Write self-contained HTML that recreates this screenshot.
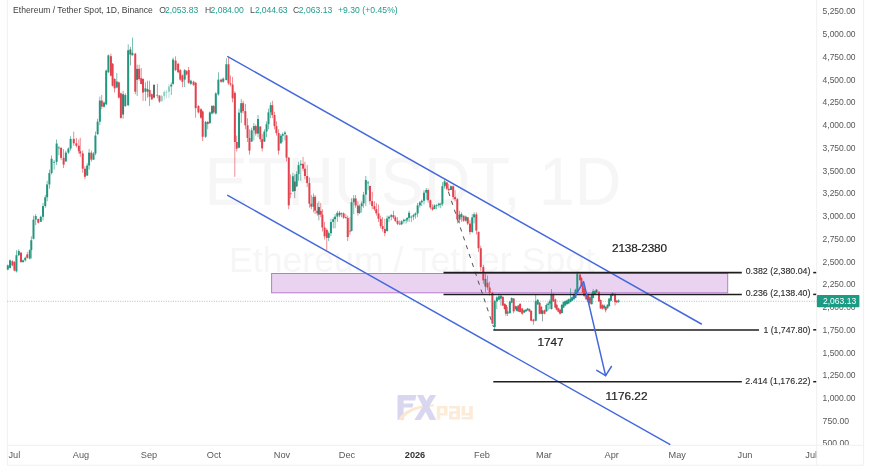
<!DOCTYPE html>
<html><head><meta charset="utf-8"><title>ETHUSDT</title>
<style>
html,body{margin:0;padding:0;background:#fff;}
body{width:870px;height:473px;overflow:hidden;position:relative;font-family:"Liberation Sans",sans-serif;}
svg{position:absolute;left:0;top:0;display:block;}
text{font-family:"Liberation Sans",sans-serif;}
</style></head><body>
<svg width="870" height="473" viewBox="0 0 870 473" style="will-change:transform">
<defs><filter id="cb" x="0" y="0" width="870" height="473" filterUnits="userSpaceOnUse"><feGaussianBlur stdDeviation="0.3"/></filter></defs>
<rect x="0" y="0" width="870" height="473" fill="#ffffff"/>

<g id="frame" stroke="#f0f0f0" stroke-width="1" fill="none">
<rect x="0" y="0" width="7.4" height="473" fill="#fefefe" stroke="none"/>
<line x1="7.4" y1="0" x2="7.4" y2="465.2"/>
<line x1="863.6" y1="0" x2="863.6" y2="465.2"/>
<line x1="7.4" y1="465.2" x2="863.6" y2="465.2"/>
<line x1="7.4" y1="445.3" x2="863.6" y2="445.3"/>
<line x1="816.7" y1="0" x2="816.7" y2="465.2"/>
</g>
<g id="wm" fill="#f6f6f6">
<text x="204.5" y="205.4" font-size="68" textLength="417" lengthAdjust="spacingAndGlyphs">ETHUSDT, 1D</text>
<text x="229" y="271.6" font-size="34.5" textLength="366" lengthAdjust="spacingAndGlyphs">Ethereum / Tether Spot</text>
</g>
<g id="logo">
<path d="M398.6 395 L416.4 395 L415.2 400.6 L403.6 400.6 L403.6 403.6 L413.5 403.6 L412.5 407.6 L403.6 407.6 L403.6 420 L397.5 420 L397.5 396.1 Q397.5 395 398.6 395 Z" fill="#d8d7ef"/>
<path d="M398.3 420 C403 410.5 414 405.3 434 404.3 L433.5 406.4 C418 407.6 408 411.6 401.6 420 Z" fill="#fbe8cf"/>
<g fill="#d8d7ef">
<path d="M417 395 L423.3 395 L436.3 420 L429.8 420 Z"/>
<path d="M430 395 L436.3 395 L420.5 420 L414.3 420 Z"/>
</g>
<g fill="#fcebd6">
<path d="M436.8 406 L447.5 406 L447.5 415.5 L440.3 415.5 L440.3 419.6 L436.8 419.6 Z M440.3 408.6 L440.3 413 L444 413 L444 408.6 Z" fill-rule="evenodd"/>
<path d="M449 406 L460 406 L460 419.6 L449 419.6 L449 411.3 L456.4 411.3 L456.4 408.6 L449 408.6 Z M452.5 413.8 L452.5 417 L456.4 417 L456.4 413.8 Z" fill-rule="evenodd"/>
<path d="M461.6 406 L465.2 406 L465.2 413 L469.2 413 L469.2 406 L472.8 406 L472.8 419.6 L461.6 419.6 L461.6 417 L469.2 417 L469.2 415.6 L461.6 415.6 Z"/>
</g>
</g>
<rect x="271.6" y="273.5" width="456.1" height="19.3" fill="#e9d3f1" stroke="#b57ccb" stroke-width="1"/>
<g stroke="#4468dc" stroke-width="1.45" fill="none" stroke-linecap="round">
<line x1="227.8" y1="56.6" x2="701.4" y2="324.0"/>
<line x1="227.7" y1="195.3" x2="669.8" y2="444.4"/>
</g>
<line x1="444.4" y1="179.7" x2="493.5" y2="327" stroke="#484848" stroke-width="0.95" stroke-dasharray="4.2 5.15" stroke-dashoffset="5.75"/>
<g id="candles" filter="url(#cb)">
<rect x="7.46" y="264.53" width="0.7" height="5.59" fill="#22967f" opacity="0.85"/>
<rect x="6.81" y="265.38" width="2.0" height="4.23" fill="#22967f"/>
<rect x="9.66" y="259.46" width="0.7" height="8.97" fill="#22967f" opacity="0.85"/>
<rect x="9.01" y="260.30" width="2.0" height="7.62" fill="#22967f"/>
<rect x="12.03" y="260.30" width="0.7" height="5.93" fill="#e2424e" opacity="0.85"/>
<rect x="11.38" y="261.15" width="2.0" height="4.23" fill="#e2424e"/>
<rect x="14.06" y="261.15" width="0.7" height="10.15" fill="#e2424e" opacity="0.85"/>
<rect x="13.41" y="262.00" width="2.0" height="8.46" fill="#e2424e"/>
<rect x="16.09" y="250.15" width="0.7" height="22.34" fill="#22967f" opacity="0.85"/>
<rect x="15.44" y="255.23" width="2.0" height="16.07" fill="#22967f"/>
<rect x="18.46" y="249.31" width="0.7" height="6.76" fill="#22967f" opacity="0.85"/>
<rect x="17.81" y="251.00" width="2.0" height="4.23" fill="#22967f"/>
<rect x="20.66" y="251.84" width="0.7" height="11.00" fill="#e2424e" opacity="0.85"/>
<rect x="20.01" y="252.69" width="2.0" height="9.31" fill="#e2424e"/>
<rect x="22.69" y="259.46" width="0.7" height="3.38" fill="#22967f" opacity="0.85"/>
<rect x="22.04" y="260.30" width="2.0" height="1.70" fill="#22967f"/>
<rect x="24.89" y="256.58" width="0.7" height="5.08" fill="#22967f" opacity="0.85"/>
<rect x="24.24" y="257.77" width="2.0" height="2.53" fill="#22967f"/>
<rect x="26.92" y="251.84" width="0.7" height="6.77" fill="#e2424e" opacity="0.85"/>
<rect x="26.27" y="254.38" width="2.0" height="3.39" fill="#e2424e"/>
<rect x="29.46" y="249.31" width="0.7" height="10.15" fill="#22967f" opacity="0.85"/>
<rect x="28.81" y="250.15" width="2.0" height="8.46" fill="#22967f"/>
<rect x="30.93" y="236.25" width="0.7" height="22.20" fill="#22967f" opacity="0.85"/>
<rect x="30.28" y="240.25" width="2.0" height="9.90" fill="#22967f"/>
<rect x="33.15" y="215.63" width="0.7" height="23.79" fill="#22967f" opacity="0.85"/>
<rect x="32.50" y="219.63" width="2.0" height="19.19" fill="#22967f"/>
<rect x="35.37" y="214.05" width="0.7" height="11.10" fill="#22967f" opacity="0.85"/>
<rect x="34.72" y="216.05" width="2.0" height="3.58" fill="#22967f"/>
<rect x="37.91" y="218.80" width="0.7" height="4.76" fill="#e2424e" opacity="0.85"/>
<rect x="37.26" y="218.93" width="2.0" height="3.77" fill="#e2424e"/>
<rect x="40.45" y="215.63" width="0.7" height="6.35" fill="#22967f" opacity="0.85"/>
<rect x="39.80" y="216.77" width="2.0" height="5.04" fill="#22967f"/>
<rect x="42.67" y="202.95" width="0.7" height="17.44" fill="#22967f" opacity="0.85"/>
<rect x="42.02" y="206.09" width="2.0" height="10.68" fill="#22967f"/>
<rect x="44.89" y="195.02" width="0.7" height="12.68" fill="#22967f" opacity="0.85"/>
<rect x="44.24" y="197.30" width="2.0" height="8.79" fill="#22967f"/>
<rect x="46.79" y="180.75" width="0.7" height="20.61" fill="#22967f" opacity="0.85"/>
<rect x="46.14" y="184.46" width="2.0" height="12.84" fill="#22967f"/>
<rect x="49.01" y="169.64" width="0.7" height="19.03" fill="#22967f" opacity="0.85"/>
<rect x="48.36" y="173.07" width="2.0" height="11.39" fill="#22967f"/>
<rect x="51.23" y="155.37" width="0.7" height="19.03" fill="#22967f" opacity="0.85"/>
<rect x="50.58" y="158.80" width="2.0" height="14.27" fill="#22967f"/>
<rect x="53.77" y="160.13" width="0.7" height="9.51" fill="#22967f" opacity="0.85"/>
<rect x="53.12" y="161.84" width="2.0" height="0.80" fill="#22967f"/>
<rect x="56.30" y="139.51" width="0.7" height="25.38" fill="#22967f" opacity="0.85"/>
<rect x="55.65" y="143.51" width="2.0" height="18.33" fill="#22967f"/>
<rect x="58.52" y="145.86" width="0.7" height="9.51" fill="#22967f" opacity="0.85"/>
<rect x="57.87" y="147.57" width="2.0" height="0.80" fill="#22967f"/>
<rect x="60.74" y="147.44" width="0.7" height="12.69" fill="#e2424e" opacity="0.85"/>
<rect x="60.09" y="147.78" width="2.0" height="10.06" fill="#e2424e"/>
<rect x="63.28" y="149.03" width="0.7" height="19.03" fill="#e2424e" opacity="0.85"/>
<rect x="62.63" y="157.85" width="2.0" height="6.79" fill="#e2424e"/>
<rect x="65.50" y="150.62" width="0.7" height="11.10" fill="#22967f" opacity="0.85"/>
<rect x="64.85" y="152.62" width="2.0" height="8.80" fill="#22967f"/>
<rect x="68.04" y="147.44" width="0.7" height="6.35" fill="#22967f" opacity="0.85"/>
<rect x="67.39" y="148.58" width="2.0" height="4.03" fill="#22967f"/>
<rect x="70.26" y="136.34" width="0.7" height="14.28" fill="#22967f" opacity="0.85"/>
<rect x="69.61" y="138.91" width="2.0" height="9.67" fill="#22967f"/>
<rect x="73.43" y="131.59" width="0.7" height="14.27" fill="#e2424e" opacity="0.85"/>
<rect x="72.78" y="138.91" width="2.0" height="4.38" fill="#e2424e"/>
<rect x="75.97" y="137.93" width="0.7" height="9.51" fill="#e2424e" opacity="0.85"/>
<rect x="75.32" y="143.29" width="2.0" height="2.44" fill="#e2424e"/>
<rect x="78.51" y="139.51" width="0.7" height="14.28" fill="#e2424e" opacity="0.85"/>
<rect x="77.86" y="145.73" width="2.0" height="5.49" fill="#e2424e"/>
<rect x="79.85" y="137.83" width="0.7" height="19.03" fill="#e2424e" opacity="0.85"/>
<rect x="79.20" y="151.22" width="2.0" height="2.22" fill="#e2424e"/>
<rect x="82.39" y="150.52" width="0.7" height="22.20" fill="#e2424e" opacity="0.85"/>
<rect x="81.74" y="153.43" width="2.0" height="15.29" fill="#e2424e"/>
<rect x="84.61" y="166.38" width="0.7" height="12.68" fill="#e2424e" opacity="0.85"/>
<rect x="83.96" y="168.72" width="2.0" height="8.05" fill="#e2424e"/>
<rect x="86.83" y="163.21" width="0.7" height="12.68" fill="#22967f" opacity="0.85"/>
<rect x="86.18" y="165.49" width="2.0" height="10.06" fill="#22967f"/>
<rect x="88.73" y="148.93" width="0.7" height="20.62" fill="#22967f" opacity="0.85"/>
<rect x="88.08" y="152.64" width="2.0" height="12.85" fill="#22967f"/>
<rect x="90.95" y="150.52" width="0.7" height="11.10" fill="#e2424e" opacity="0.85"/>
<rect x="90.30" y="152.64" width="2.0" height="6.98" fill="#e2424e"/>
<rect x="93.17" y="152.11" width="0.7" height="7.92" fill="#22967f" opacity="0.85"/>
<rect x="92.52" y="153.54" width="2.0" height="6.09" fill="#22967f"/>
<rect x="95.07" y="131.49" width="0.7" height="23.79" fill="#22967f" opacity="0.85"/>
<rect x="94.42" y="135.49" width="2.0" height="18.05" fill="#22967f"/>
<rect x="97.29" y="118.80" width="0.7" height="15.86" fill="#22967f" opacity="0.85"/>
<rect x="96.64" y="121.65" width="2.0" height="12.58" fill="#22967f"/>
<rect x="99.51" y="96.60" width="0.7" height="28.55" fill="#22967f" opacity="0.85"/>
<rect x="98.86" y="100.60" width="2.0" height="21.05" fill="#22967f"/>
<rect x="101.42" y="95.02" width="0.7" height="14.27" fill="#e2424e" opacity="0.85"/>
<rect x="100.77" y="100.60" width="2.0" height="6.12" fill="#e2424e"/>
<rect x="103.64" y="101.36" width="0.7" height="6.34" fill="#22967f" opacity="0.85"/>
<rect x="102.99" y="102.50" width="2.0" height="4.22" fill="#22967f"/>
<rect x="105.84" y="69.72" width="0.7" height="35.49" fill="#22967f" opacity="0.85"/>
<rect x="105.19" y="70.56" width="2.0" height="33.80" fill="#22967f"/>
<rect x="108.03" y="54.51" width="0.7" height="18.59" fill="#22967f" opacity="0.85"/>
<rect x="107.38" y="55.35" width="2.0" height="16.90" fill="#22967f"/>
<rect x="110.57" y="53.66" width="0.7" height="22.82" fill="#e2424e" opacity="0.85"/>
<rect x="109.92" y="56.20" width="2.0" height="19.43" fill="#e2424e"/>
<rect x="112.26" y="62.96" width="0.7" height="23.66" fill="#e2424e" opacity="0.85"/>
<rect x="111.61" y="63.80" width="2.0" height="21.97" fill="#e2424e"/>
<rect x="114.29" y="78.17" width="0.7" height="14.36" fill="#e2424e" opacity="0.85"/>
<rect x="113.64" y="79.01" width="2.0" height="9.30" fill="#e2424e"/>
<rect x="116.48" y="73.10" width="0.7" height="15.21" fill="#22967f" opacity="0.85"/>
<rect x="115.83" y="81.55" width="2.0" height="5.91" fill="#22967f"/>
<rect x="118.51" y="81.55" width="0.7" height="16.90" fill="#e2424e" opacity="0.85"/>
<rect x="117.86" y="82.39" width="2.0" height="15.21" fill="#e2424e"/>
<rect x="120.54" y="92.53" width="0.7" height="26.20" fill="#e2424e" opacity="0.85"/>
<rect x="119.89" y="93.38" width="2.0" height="24.50" fill="#e2424e"/>
<rect x="122.74" y="90.84" width="0.7" height="27.89" fill="#55706a" opacity="0.85"/>
<rect x="122.09" y="94.22" width="2.0" height="20.28" fill="#55706a"/>
<rect x="124.93" y="93.38" width="0.7" height="13.52" fill="#22967f" opacity="0.85"/>
<rect x="124.28" y="95.07" width="2.0" height="10.98" fill="#22967f"/>
<rect x="127.81" y="44.37" width="0.7" height="61.68" fill="#22967f" opacity="0.85"/>
<rect x="127.16" y="50.28" width="2.0" height="54.93" fill="#22967f"/>
<rect x="130.00" y="46.90" width="0.7" height="18.59" fill="#55706a" opacity="0.85"/>
<rect x="129.35" y="49.44" width="2.0" height="5.07" fill="#55706a"/>
<rect x="132.03" y="37.61" width="0.7" height="17.74" fill="#22967f" opacity="0.85"/>
<rect x="131.38" y="52.82" width="2.0" height="2.53" fill="#22967f"/>
<rect x="134.90" y="52.82" width="0.7" height="41.40" fill="#e2424e" opacity="0.85"/>
<rect x="134.25" y="53.66" width="2.0" height="38.03" fill="#e2424e"/>
<rect x="136.76" y="64.65" width="0.7" height="31.26" fill="#55706a" opacity="0.85"/>
<rect x="136.11" y="68.87" width="2.0" height="10.99" fill="#55706a"/>
<rect x="138.79" y="64.65" width="0.7" height="16.05" fill="#e2424e" opacity="0.85"/>
<rect x="138.14" y="68.87" width="2.0" height="10.14" fill="#e2424e"/>
<rect x="140.82" y="68.03" width="0.7" height="16.05" fill="#e2424e" opacity="0.85"/>
<rect x="140.17" y="78.17" width="2.0" height="5.91" fill="#e2424e"/>
<rect x="142.68" y="78.17" width="0.7" height="22.81" fill="#e2424e" opacity="0.85"/>
<rect x="142.03" y="79.01" width="2.0" height="13.52" fill="#e2424e"/>
<rect x="145.04" y="82.39" width="0.7" height="18.59" fill="#22967f" opacity="0.85"/>
<rect x="144.39" y="88.31" width="2.0" height="3.38" fill="#22967f"/>
<rect x="147.24" y="80.70" width="0.7" height="16.90" fill="#55706a" opacity="0.85"/>
<rect x="146.59" y="89.15" width="2.0" height="2.54" fill="#55706a"/>
<rect x="149.27" y="80.70" width="0.7" height="25.35" fill="#e2424e" opacity="0.85"/>
<rect x="148.62" y="90.00" width="2.0" height="6.76" fill="#e2424e"/>
<rect x="151.47" y="93.38" width="0.7" height="6.76" fill="#e2424e" opacity="0.85"/>
<rect x="150.82" y="94.22" width="2.0" height="5.07" fill="#e2424e"/>
<rect x="153.66" y="84.08" width="0.7" height="14.37" fill="#55706a" opacity="0.85"/>
<rect x="153.01" y="84.93" width="2.0" height="12.67" fill="#55706a"/>
<rect x="156.92" y="83.92" width="0.7" height="14.27" fill="#e2424e" opacity="0.85"/>
<rect x="156.27" y="94.82" width="2.0" height="0.80" fill="#e2424e"/>
<rect x="159.14" y="95.02" width="0.7" height="7.93" fill="#e2424e" opacity="0.85"/>
<rect x="158.49" y="95.62" width="2.0" height="5.90" fill="#e2424e"/>
<rect x="161.36" y="95.02" width="0.7" height="6.34" fill="#8fcfc2" opacity="0.85"/>
<rect x="160.71" y="96.16" width="2.0" height="5.03" fill="#8fcfc2"/>
<rect x="163.90" y="90.26" width="0.7" height="9.51" fill="#8fcfc2" opacity="0.85"/>
<rect x="163.25" y="91.97" width="2.0" height="4.19" fill="#8fcfc2"/>
<rect x="166.12" y="90.26" width="0.7" height="7.93" fill="#8fcfc2" opacity="0.85"/>
<rect x="165.47" y="91.69" width="2.0" height="0.80" fill="#8fcfc2"/>
<rect x="168.65" y="83.92" width="0.7" height="14.27" fill="#8fcfc2" opacity="0.85"/>
<rect x="168.00" y="86.49" width="2.0" height="5.20" fill="#8fcfc2"/>
<rect x="170.87" y="82.33" width="0.7" height="12.69" fill="#22967f" opacity="0.85"/>
<rect x="170.22" y="84.61" width="2.0" height="1.87" fill="#22967f"/>
<rect x="172.71" y="57.41" width="0.7" height="27.51" fill="#22967f" opacity="0.85"/>
<rect x="172.06" y="59.52" width="2.0" height="24.34" fill="#22967f"/>
<rect x="175.25" y="56.35" width="0.7" height="14.81" fill="#e2424e" opacity="0.85"/>
<rect x="174.60" y="60.58" width="2.0" height="9.53" fill="#e2424e"/>
<rect x="177.79" y="62.70" width="0.7" height="10.58" fill="#e2424e" opacity="0.85"/>
<rect x="177.14" y="63.76" width="2.0" height="8.46" fill="#e2424e"/>
<rect x="179.90" y="69.05" width="0.7" height="11.64" fill="#e2424e" opacity="0.85"/>
<rect x="179.25" y="70.11" width="2.0" height="9.52" fill="#e2424e"/>
<rect x="182.02" y="74.34" width="0.7" height="12.70" fill="#e2424e" opacity="0.85"/>
<rect x="181.37" y="75.40" width="2.0" height="6.35" fill="#e2424e"/>
<rect x="184.35" y="69.05" width="0.7" height="17.99" fill="#22967f" opacity="0.85"/>
<rect x="183.70" y="70.11" width="2.0" height="9.52" fill="#22967f"/>
<rect x="186.25" y="70.11" width="0.7" height="5.29" fill="#e2424e" opacity="0.85"/>
<rect x="185.60" y="71.16" width="2.0" height="3.18" fill="#e2424e"/>
<rect x="188.37" y="66.93" width="0.7" height="16.93" fill="#e2424e" opacity="0.85"/>
<rect x="187.72" y="70.11" width="2.0" height="12.69" fill="#e2424e"/>
<rect x="190.48" y="79.63" width="0.7" height="5.29" fill="#22967f" opacity="0.85"/>
<rect x="189.83" y="80.69" width="2.0" height="3.17" fill="#22967f"/>
<rect x="193.24" y="80.69" width="0.7" height="5.29" fill="#e2424e" opacity="0.85"/>
<rect x="192.59" y="81.75" width="2.0" height="3.17" fill="#e2424e"/>
<rect x="195.35" y="81.75" width="0.7" height="35.97" fill="#e2424e" opacity="0.85"/>
<rect x="194.70" y="82.80" width="2.0" height="25.40" fill="#e2424e"/>
<rect x="198.10" y="105.03" width="0.7" height="8.46" fill="#e2424e" opacity="0.85"/>
<rect x="197.45" y="106.08" width="2.0" height="6.35" fill="#e2424e"/>
<rect x="200.64" y="108.20" width="0.7" height="10.58" fill="#e2424e" opacity="0.85"/>
<rect x="199.99" y="109.26" width="2.0" height="8.46" fill="#e2424e"/>
<rect x="202.34" y="110.32" width="0.7" height="30.69" fill="#e2424e" opacity="0.85"/>
<rect x="201.69" y="111.38" width="2.0" height="25.39" fill="#e2424e"/>
<rect x="205.30" y="120.90" width="0.7" height="16.93" fill="#22967f" opacity="0.85"/>
<rect x="204.65" y="121.96" width="2.0" height="14.81" fill="#22967f"/>
<rect x="207.42" y="120.90" width="0.7" height="8.47" fill="#e2424e" opacity="0.85"/>
<rect x="206.77" y="121.96" width="2.0" height="2.11" fill="#e2424e"/>
<rect x="209.53" y="111.38" width="0.7" height="12.69" fill="#22967f" opacity="0.85"/>
<rect x="208.88" y="112.43" width="2.0" height="10.59" fill="#22967f"/>
<rect x="211.65" y="105.03" width="0.7" height="9.52" fill="#22967f" opacity="0.85"/>
<rect x="211.00" y="106.08" width="2.0" height="7.41" fill="#22967f"/>
<rect x="213.34" y="105.03" width="0.7" height="8.46" fill="#e2424e" opacity="0.85"/>
<rect x="212.69" y="106.08" width="2.0" height="6.35" fill="#e2424e"/>
<rect x="215.46" y="92.33" width="0.7" height="22.22" fill="#22967f" opacity="0.85"/>
<rect x="214.81" y="93.39" width="2.0" height="20.10" fill="#22967f"/>
<rect x="218.00" y="72.22" width="0.7" height="23.28" fill="#22967f" opacity="0.85"/>
<rect x="217.35" y="79.63" width="2.0" height="14.81" fill="#22967f"/>
<rect x="220.75" y="78.57" width="0.7" height="4.23" fill="#e2424e" opacity="0.85"/>
<rect x="220.10" y="79.63" width="2.0" height="2.12" fill="#e2424e"/>
<rect x="222.87" y="77.51" width="0.7" height="5.29" fill="#22967f" opacity="0.85"/>
<rect x="222.22" y="78.57" width="2.0" height="3.18" fill="#22967f"/>
<rect x="225.95" y="58.25" width="0.7" height="21.88" fill="#22967f" opacity="0.85"/>
<rect x="225.30" y="64.27" width="2.0" height="15.86" fill="#22967f"/>
<rect x="228.17" y="57.61" width="0.7" height="27.28" fill="#e2424e" opacity="0.85"/>
<rect x="227.52" y="64.27" width="2.0" height="19.03" fill="#e2424e"/>
<rect x="230.07" y="75.37" width="0.7" height="11.10" fill="#e2424e" opacity="0.85"/>
<rect x="229.42" y="83.30" width="2.0" height="1.17" fill="#e2424e"/>
<rect x="232.29" y="76.96" width="0.7" height="25.37" fill="#e2424e" opacity="0.85"/>
<rect x="231.64" y="84.47" width="2.0" height="13.86" fill="#e2424e"/>
<rect x="234.51" y="91.23" width="0.7" height="85.63" fill="#e2424e" opacity="0.85"/>
<rect x="233.86" y="92.82" width="2.0" height="49.16" fill="#e2424e"/>
<rect x="236.42" y="135.63" width="0.7" height="15.86" fill="#e2424e" opacity="0.85"/>
<rect x="235.77" y="141.98" width="2.0" height="6.66" fill="#e2424e"/>
<rect x="238.64" y="108.67" width="0.7" height="39.65" fill="#22967f" opacity="0.85"/>
<rect x="237.99" y="112.67" width="2.0" height="35.05" fill="#22967f"/>
<rect x="240.86" y="99.16" width="0.7" height="23.79" fill="#22967f" opacity="0.85"/>
<rect x="240.21" y="103.16" width="2.0" height="9.51" fill="#22967f"/>
<rect x="242.76" y="100.75" width="0.7" height="12.68" fill="#e2424e" opacity="0.85"/>
<rect x="242.11" y="103.16" width="2.0" height="7.99" fill="#e2424e"/>
<rect x="244.98" y="103.92" width="0.7" height="25.37" fill="#e2424e" opacity="0.85"/>
<rect x="244.33" y="111.15" width="2.0" height="14.14" fill="#e2424e"/>
<rect x="247.20" y="118.19" width="0.7" height="23.79" fill="#e2424e" opacity="0.85"/>
<rect x="246.55" y="125.29" width="2.0" height="12.69" fill="#e2424e"/>
<rect x="249.10" y="129.29" width="0.7" height="25.37" fill="#e2424e" opacity="0.85"/>
<rect x="248.45" y="137.98" width="2.0" height="12.68" fill="#e2424e"/>
<rect x="251.32" y="127.70" width="0.7" height="14.28" fill="#22967f" opacity="0.85"/>
<rect x="250.67" y="130.27" width="2.0" height="11.32" fill="#22967f"/>
<rect x="253.54" y="122.95" width="0.7" height="17.44" fill="#22967f" opacity="0.85"/>
<rect x="252.89" y="126.09" width="2.0" height="4.18" fill="#22967f"/>
<rect x="255.45" y="124.53" width="0.7" height="11.10" fill="#e2424e" opacity="0.85"/>
<rect x="254.80" y="126.09" width="2.0" height="7.54" fill="#e2424e"/>
<rect x="257.67" y="115.02" width="0.7" height="22.20" fill="#22967f" opacity="0.85"/>
<rect x="257.02" y="119.02" width="2.0" height="14.62" fill="#22967f"/>
<rect x="259.89" y="126.12" width="0.7" height="15.86" fill="#e2424e" opacity="0.85"/>
<rect x="259.24" y="126.55" width="2.0" height="12.58" fill="#e2424e"/>
<rect x="261.79" y="134.05" width="0.7" height="17.44" fill="#e2424e" opacity="0.85"/>
<rect x="261.14" y="139.13" width="2.0" height="9.23" fill="#e2424e"/>
<rect x="264.01" y="129.29" width="0.7" height="12.69" fill="#22967f" opacity="0.85"/>
<rect x="263.36" y="131.57" width="2.0" height="10.06" fill="#22967f"/>
<rect x="266.23" y="121.36" width="0.7" height="15.86" fill="#22967f" opacity="0.85"/>
<rect x="265.58" y="124.21" width="2.0" height="7.36" fill="#22967f"/>
<rect x="268.13" y="108.67" width="0.7" height="20.62" fill="#22967f" opacity="0.85"/>
<rect x="267.48" y="112.38" width="2.0" height="11.83" fill="#22967f"/>
<rect x="270.35" y="102.33" width="0.7" height="15.86" fill="#22967f" opacity="0.85"/>
<rect x="269.70" y="105.18" width="2.0" height="7.20" fill="#22967f"/>
<rect x="271.94" y="100.75" width="0.7" height="17.44" fill="#e2424e" opacity="0.85"/>
<rect x="271.29" y="105.18" width="2.0" height="9.87" fill="#e2424e"/>
<rect x="274.16" y="111.85" width="0.7" height="17.44" fill="#e2424e" opacity="0.85"/>
<rect x="273.51" y="115.05" width="2.0" height="11.10" fill="#e2424e"/>
<rect x="276.06" y="121.36" width="0.7" height="14.27" fill="#e2424e" opacity="0.85"/>
<rect x="275.41" y="126.15" width="2.0" height="6.91" fill="#e2424e"/>
<rect x="278.28" y="129.29" width="0.7" height="25.37" fill="#e2424e" opacity="0.85"/>
<rect x="277.63" y="133.06" width="2.0" height="17.60" fill="#e2424e"/>
<rect x="280.50" y="134.05" width="0.7" height="9.51" fill="#22967f" opacity="0.85"/>
<rect x="279.85" y="135.76" width="2.0" height="7.54" fill="#22967f"/>
<rect x="282.40" y="132.46" width="0.7" height="9.52" fill="#22967f" opacity="0.85"/>
<rect x="281.75" y="134.17" width="2.0" height="1.59" fill="#22967f"/>
<rect x="284.62" y="130.88" width="0.7" height="9.51" fill="#22967f" opacity="0.85"/>
<rect x="283.97" y="132.59" width="2.0" height="1.58" fill="#22967f"/>
<rect x="286.19" y="134.76" width="0.7" height="26.96" fill="#e2424e" opacity="0.85"/>
<rect x="285.54" y="135.36" width="2.0" height="22.36" fill="#e2424e"/>
<rect x="288.41" y="156.96" width="0.7" height="52.33" fill="#e2424e" opacity="0.85"/>
<rect x="287.76" y="157.72" width="2.0" height="47.57" fill="#e2424e"/>
<rect x="290.32" y="174.40" width="0.7" height="23.79" fill="#e2424e" opacity="0.85"/>
<rect x="289.67" y="193.39" width="2.0" height="0.80" fill="#e2424e"/>
<rect x="292.54" y="172.82" width="0.7" height="19.03" fill="#22967f" opacity="0.85"/>
<rect x="291.89" y="176.25" width="2.0" height="15.09" fill="#22967f"/>
<rect x="294.44" y="174.40" width="0.7" height="23.79" fill="#55706a" opacity="0.85"/>
<rect x="293.79" y="181.54" width="2.0" height="9.52" fill="#55706a"/>
<rect x="296.34" y="171.23" width="0.7" height="15.86" fill="#22967f" opacity="0.85"/>
<rect x="295.69" y="174.08" width="2.0" height="12.21" fill="#22967f"/>
<rect x="298.25" y="161.72" width="0.7" height="19.03" fill="#22967f" opacity="0.85"/>
<rect x="297.60" y="165.15" width="2.0" height="8.94" fill="#22967f"/>
<rect x="300.47" y="160.13" width="0.7" height="20.62" fill="#22967f" opacity="0.85"/>
<rect x="299.82" y="163.84" width="2.0" height="1.30" fill="#22967f"/>
<rect x="302.69" y="156.96" width="0.7" height="14.27" fill="#e2424e" opacity="0.85"/>
<rect x="302.04" y="163.84" width="2.0" height="4.82" fill="#e2424e"/>
<rect x="304.59" y="161.72" width="0.7" height="17.44" fill="#e2424e" opacity="0.85"/>
<rect x="303.94" y="168.66" width="2.0" height="7.36" fill="#e2424e"/>
<rect x="306.81" y="164.89" width="0.7" height="22.20" fill="#e2424e" opacity="0.85"/>
<rect x="306.16" y="176.02" width="2.0" height="7.07" fill="#e2424e"/>
<rect x="309.03" y="177.57" width="0.7" height="30.13" fill="#e2424e" opacity="0.85"/>
<rect x="308.38" y="183.09" width="2.0" height="20.61" fill="#e2424e"/>
<rect x="310.93" y="195.02" width="0.7" height="14.27" fill="#e2424e" opacity="0.85"/>
<rect x="310.28" y="203.70" width="2.0" height="3.02" fill="#e2424e"/>
<rect x="313.15" y="193.43" width="0.7" height="19.03" fill="#22967f" opacity="0.85"/>
<rect x="312.50" y="196.86" width="2.0" height="9.87" fill="#22967f"/>
<rect x="314.74" y="195.02" width="0.7" height="19.03" fill="#e2424e" opacity="0.85"/>
<rect x="314.09" y="196.86" width="2.0" height="13.77" fill="#e2424e"/>
<rect x="316.96" y="202.95" width="0.7" height="12.68" fill="#e2424e" opacity="0.85"/>
<rect x="316.31" y="210.62" width="2.0" height="2.72" fill="#e2424e"/>
<rect x="318.54" y="201.36" width="0.7" height="19.03" fill="#55706a" opacity="0.85"/>
<rect x="317.89" y="207.07" width="2.0" height="7.61" fill="#55706a"/>
<rect x="320.45" y="202.95" width="0.7" height="14.27" fill="#e2424e" opacity="0.85"/>
<rect x="319.80" y="210.88" width="2.0" height="3.78" fill="#e2424e"/>
<rect x="322.03" y="209.29" width="0.7" height="22.20" fill="#e2424e" opacity="0.85"/>
<rect x="321.38" y="214.65" width="2.0" height="12.84" fill="#e2424e"/>
<rect x="324.25" y="221.98" width="0.7" height="17.44" fill="#e2424e" opacity="0.85"/>
<rect x="323.60" y="227.49" width="2.0" height="8.79" fill="#e2424e"/>
<rect x="326.47" y="228.32" width="0.7" height="22.20" fill="#e2424e" opacity="0.85"/>
<rect x="325.82" y="229.90" width="2.0" height="7.93" fill="#e2424e"/>
<rect x="328.38" y="231.49" width="0.7" height="9.52" fill="#22967f" opacity="0.85"/>
<rect x="327.73" y="233.20" width="2.0" height="4.63" fill="#22967f"/>
<rect x="330.60" y="218.80" width="0.7" height="17.45" fill="#22967f" opacity="0.85"/>
<rect x="329.95" y="221.94" width="2.0" height="11.26" fill="#22967f"/>
<rect x="332.82" y="217.22" width="0.7" height="11.10" fill="#22967f" opacity="0.85"/>
<rect x="332.17" y="219.22" width="2.0" height="2.72" fill="#22967f"/>
<rect x="334.72" y="214.05" width="0.7" height="14.27" fill="#22967f" opacity="0.85"/>
<rect x="334.07" y="216.62" width="2.0" height="2.60" fill="#22967f"/>
<rect x="336.94" y="210.88" width="0.7" height="11.10" fill="#22967f" opacity="0.85"/>
<rect x="336.29" y="212.88" width="2.0" height="3.74" fill="#22967f"/>
<rect x="339.16" y="210.88" width="0.7" height="6.34" fill="#55706a" opacity="0.85"/>
<rect x="338.51" y="212.78" width="2.0" height="2.54" fill="#55706a"/>
<rect x="341.06" y="212.46" width="0.7" height="4.76" fill="#22967f" opacity="0.85"/>
<rect x="340.41" y="213.32" width="2.0" height="0.80" fill="#22967f"/>
<rect x="343.28" y="212.46" width="0.7" height="6.34" fill="#e2424e" opacity="0.85"/>
<rect x="342.63" y="213.32" width="2.0" height="4.34" fill="#e2424e"/>
<rect x="345.50" y="214.05" width="0.7" height="4.75" fill="#e2424e" opacity="0.85"/>
<rect x="344.85" y="217.15" width="2.0" height="0.80" fill="#e2424e"/>
<rect x="347.40" y="215.63" width="0.7" height="25.38" fill="#e2424e" opacity="0.85"/>
<rect x="346.75" y="217.95" width="2.0" height="19.06" fill="#e2424e"/>
<rect x="349.62" y="217.22" width="0.7" height="17.44" fill="#e2424e" opacity="0.85"/>
<rect x="348.97" y="230.72" width="2.0" height="0.80" fill="#e2424e"/>
<rect x="351.21" y="198.19" width="0.7" height="33.30" fill="#22967f" opacity="0.85"/>
<rect x="350.56" y="202.19" width="2.0" height="28.70" fill="#22967f"/>
<rect x="353.43" y="195.02" width="0.7" height="19.03" fill="#22967f" opacity="0.85"/>
<rect x="352.78" y="198.45" width="2.0" height="3.74" fill="#22967f"/>
<rect x="355.33" y="195.02" width="0.7" height="12.68" fill="#e2424e" opacity="0.85"/>
<rect x="354.68" y="198.45" width="2.0" height="6.97" fill="#e2424e"/>
<rect x="357.55" y="201.36" width="0.7" height="14.27" fill="#e2424e" opacity="0.85"/>
<rect x="356.90" y="205.42" width="2.0" height="7.64" fill="#e2424e"/>
<rect x="359.14" y="204.53" width="0.7" height="9.52" fill="#22967f" opacity="0.85"/>
<rect x="358.49" y="206.24" width="2.0" height="6.82" fill="#22967f"/>
<rect x="361.36" y="201.36" width="0.7" height="11.10" fill="#22967f" opacity="0.85"/>
<rect x="360.71" y="203.36" width="2.0" height="2.89" fill="#22967f"/>
<rect x="363.26" y="191.85" width="0.7" height="15.85" fill="#22967f" opacity="0.85"/>
<rect x="362.61" y="194.70" width="2.0" height="8.66" fill="#22967f"/>
<rect x="365.48" y="175.99" width="0.7" height="30.13" fill="#22967f" opacity="0.85"/>
<rect x="364.83" y="179.99" width="2.0" height="14.71" fill="#22967f"/>
<rect x="367.70" y="180.75" width="0.7" height="9.51" fill="#22967f" opacity="0.85"/>
<rect x="367.05" y="182.46" width="2.0" height="0.80" fill="#22967f"/>
<rect x="369.61" y="185.50" width="0.7" height="19.03" fill="#e2424e" opacity="0.85"/>
<rect x="368.96" y="186.01" width="2.0" height="15.09" fill="#e2424e"/>
<rect x="371.83" y="191.85" width="0.7" height="17.44" fill="#e2424e" opacity="0.85"/>
<rect x="371.18" y="201.10" width="2.0" height="5.05" fill="#e2424e"/>
<rect x="374.05" y="201.36" width="0.7" height="9.52" fill="#e2424e" opacity="0.85"/>
<rect x="373.40" y="206.15" width="2.0" height="3.02" fill="#e2424e"/>
<rect x="375.95" y="202.95" width="0.7" height="12.68" fill="#e2424e" opacity="0.85"/>
<rect x="375.30" y="209.17" width="2.0" height="4.18" fill="#e2424e"/>
<rect x="378.17" y="204.53" width="0.7" height="17.45" fill="#e2424e" opacity="0.85"/>
<rect x="377.52" y="213.35" width="2.0" height="5.49" fill="#e2424e"/>
<rect x="380.39" y="215.63" width="0.7" height="12.69" fill="#e2424e" opacity="0.85"/>
<rect x="379.74" y="218.84" width="2.0" height="7.20" fill="#e2424e"/>
<rect x="382.29" y="217.22" width="0.7" height="14.27" fill="#e2424e" opacity="0.85"/>
<rect x="381.64" y="226.04" width="2.0" height="2.89" fill="#e2424e"/>
<rect x="384.51" y="218.80" width="0.7" height="17.45" fill="#e2424e" opacity="0.85"/>
<rect x="383.86" y="228.92" width="2.0" height="4.19" fill="#e2424e"/>
<rect x="386.73" y="215.63" width="0.7" height="15.86" fill="#22967f" opacity="0.85"/>
<rect x="386.08" y="218.48" width="2.0" height="12.58" fill="#22967f"/>
<rect x="388.64" y="215.63" width="0.7" height="6.35" fill="#22967f" opacity="0.85"/>
<rect x="387.99" y="216.77" width="2.0" height="1.71" fill="#22967f"/>
<rect x="390.86" y="214.05" width="0.7" height="6.34" fill="#22967f" opacity="0.85"/>
<rect x="390.21" y="215.19" width="2.0" height="1.58" fill="#22967f"/>
<rect x="393.08" y="210.88" width="0.7" height="7.92" fill="#e2424e" opacity="0.85"/>
<rect x="392.43" y="215.19" width="2.0" height="2.18" fill="#e2424e"/>
<rect x="394.98" y="215.63" width="0.7" height="6.35" fill="#e2424e" opacity="0.85"/>
<rect x="394.33" y="217.37" width="2.0" height="3.46" fill="#e2424e"/>
<rect x="397.20" y="217.22" width="0.7" height="7.93" fill="#e2424e" opacity="0.85"/>
<rect x="396.55" y="220.84" width="2.0" height="2.89" fill="#e2424e"/>
<rect x="399.42" y="220.39" width="0.7" height="4.76" fill="#e2424e" opacity="0.85"/>
<rect x="398.77" y="223.49" width="2.0" height="0.80" fill="#e2424e"/>
<rect x="401.32" y="220.39" width="0.7" height="4.76" fill="#22967f" opacity="0.85"/>
<rect x="400.67" y="221.25" width="2.0" height="3.05" fill="#22967f"/>
<rect x="403.54" y="218.80" width="0.7" height="4.76" fill="#22967f" opacity="0.85"/>
<rect x="402.89" y="219.66" width="2.0" height="1.59" fill="#22967f"/>
<rect x="405.76" y="218.80" width="0.7" height="4.76" fill="#22967f" opacity="0.85"/>
<rect x="405.11" y="219.66" width="2.0" height="0.80" fill="#22967f"/>
<rect x="406.83" y="217.09" width="0.7" height="4.76" fill="#22967f" opacity="0.85"/>
<rect x="406.18" y="217.95" width="2.0" height="1.71" fill="#22967f"/>
<rect x="408.73" y="210.75" width="0.7" height="11.10" fill="#22967f" opacity="0.85"/>
<rect x="408.08" y="212.75" width="2.0" height="5.20" fill="#22967f"/>
<rect x="410.95" y="215.50" width="0.7" height="6.35" fill="#22967f" opacity="0.85"/>
<rect x="410.30" y="216.64" width="2.0" height="0.80" fill="#22967f"/>
<rect x="413.17" y="213.92" width="0.7" height="6.34" fill="#22967f" opacity="0.85"/>
<rect x="412.52" y="215.06" width="2.0" height="1.58" fill="#22967f"/>
<rect x="415.07" y="212.33" width="0.7" height="6.34" fill="#22967f" opacity="0.85"/>
<rect x="414.42" y="213.47" width="2.0" height="1.59" fill="#22967f"/>
<rect x="417.29" y="202.82" width="0.7" height="14.27" fill="#22967f" opacity="0.85"/>
<rect x="416.64" y="205.39" width="2.0" height="8.08" fill="#22967f"/>
<rect x="419.51" y="201.23" width="0.7" height="6.34" fill="#22967f" opacity="0.85"/>
<rect x="418.86" y="202.37" width="2.0" height="3.02" fill="#22967f"/>
<rect x="421.42" y="199.64" width="0.7" height="6.35" fill="#22967f" opacity="0.85"/>
<rect x="420.77" y="200.78" width="2.0" height="1.59" fill="#22967f"/>
<rect x="423.64" y="190.13" width="0.7" height="14.27" fill="#22967f" opacity="0.85"/>
<rect x="422.99" y="192.70" width="2.0" height="8.08" fill="#22967f"/>
<rect x="425.86" y="187.91" width="0.7" height="11.73" fill="#22967f" opacity="0.85"/>
<rect x="425.21" y="190.02" width="2.0" height="2.68" fill="#22967f"/>
<rect x="427.76" y="188.54" width="0.7" height="14.28" fill="#e2424e" opacity="0.85"/>
<rect x="427.11" y="190.02" width="2.0" height="10.23" fill="#e2424e"/>
<rect x="429.98" y="199.64" width="0.7" height="9.52" fill="#e2424e" opacity="0.85"/>
<rect x="429.33" y="200.25" width="2.0" height="7.20" fill="#e2424e"/>
<rect x="432.20" y="204.40" width="0.7" height="6.35" fill="#e2424e" opacity="0.85"/>
<rect x="431.55" y="207.45" width="2.0" height="2.16" fill="#e2424e"/>
<rect x="434.10" y="204.40" width="0.7" height="4.76" fill="#22967f" opacity="0.85"/>
<rect x="433.45" y="205.26" width="2.0" height="3.77" fill="#22967f"/>
<rect x="436.32" y="204.40" width="0.7" height="4.76" fill="#22967f" opacity="0.85"/>
<rect x="435.67" y="205.26" width="2.0" height="0.80" fill="#22967f"/>
<rect x="438.54" y="202.82" width="0.7" height="4.75" fill="#22967f" opacity="0.85"/>
<rect x="437.89" y="203.67" width="2.0" height="1.58" fill="#22967f"/>
<rect x="440.45" y="202.82" width="0.7" height="5.39" fill="#22967f" opacity="0.85"/>
<rect x="439.80" y="203.79" width="2.0" height="0.80" fill="#22967f"/>
<rect x="442.03" y="182.20" width="0.7" height="23.79" fill="#22967f" opacity="0.85"/>
<rect x="441.38" y="186.20" width="2.0" height="17.59" fill="#22967f"/>
<rect x="444.25" y="179.66" width="0.7" height="8.88" fill="#22967f" opacity="0.85"/>
<rect x="443.60" y="181.26" width="2.0" height="4.94" fill="#22967f"/>
<rect x="446.47" y="182.20" width="0.7" height="7.93" fill="#e2424e" opacity="0.85"/>
<rect x="445.82" y="182.41" width="2.0" height="6.29" fill="#e2424e"/>
<rect x="448.38" y="183.79" width="0.7" height="7.93" fill="#e2424e" opacity="0.85"/>
<rect x="447.73" y="188.70" width="2.0" height="1.59" fill="#e2424e"/>
<rect x="450.60" y="185.37" width="0.7" height="4.76" fill="#22967f" opacity="0.85"/>
<rect x="449.95" y="186.23" width="2.0" height="3.77" fill="#22967f"/>
<rect x="452.82" y="185.37" width="0.7" height="14.27" fill="#e2424e" opacity="0.85"/>
<rect x="452.17" y="186.23" width="2.0" height="10.84" fill="#e2424e"/>
<rect x="454.72" y="190.13" width="0.7" height="11.10" fill="#e2424e" opacity="0.85"/>
<rect x="454.07" y="197.07" width="2.0" height="2.16" fill="#e2424e"/>
<rect x="456.94" y="198.06" width="0.7" height="25.37" fill="#e2424e" opacity="0.85"/>
<rect x="456.29" y="199.23" width="2.0" height="20.20" fill="#e2424e"/>
<rect x="459.16" y="210.75" width="0.7" height="12.68" fill="#55706a" opacity="0.85"/>
<rect x="458.51" y="214.55" width="2.0" height="5.07" fill="#55706a"/>
<rect x="461.06" y="212.33" width="0.7" height="9.52" fill="#22967f" opacity="0.85"/>
<rect x="460.41" y="214.04" width="2.0" height="3.05" fill="#22967f"/>
<rect x="463.28" y="215.50" width="0.7" height="6.35" fill="#e2424e" opacity="0.85"/>
<rect x="462.63" y="215.67" width="2.0" height="5.04" fill="#e2424e"/>
<rect x="465.50" y="215.50" width="0.7" height="6.35" fill="#22967f" opacity="0.85"/>
<rect x="464.85" y="216.64" width="2.0" height="4.06" fill="#22967f"/>
<rect x="467.40" y="217.09" width="0.7" height="7.93" fill="#e2424e" opacity="0.85"/>
<rect x="466.75" y="217.30" width="2.0" height="6.29" fill="#e2424e"/>
<rect x="469.62" y="220.26" width="0.7" height="14.27" fill="#e2424e" opacity="0.85"/>
<rect x="468.97" y="223.59" width="2.0" height="8.37" fill="#e2424e"/>
<rect x="471.84" y="213.92" width="0.7" height="19.03" fill="#22967f" opacity="0.85"/>
<rect x="471.19" y="217.35" width="2.0" height="14.62" fill="#22967f"/>
<rect x="473.75" y="212.33" width="0.7" height="11.10" fill="#22967f" opacity="0.85"/>
<rect x="473.10" y="214.33" width="2.0" height="3.02" fill="#22967f"/>
<rect x="475.97" y="212.33" width="0.7" height="22.20" fill="#e2424e" opacity="0.85"/>
<rect x="475.32" y="214.33" width="2.0" height="16.21" fill="#e2424e"/>
<rect x="478.19" y="231.36" width="0.7" height="20.62" fill="#e2424e" opacity="0.85"/>
<rect x="477.54" y="231.92" width="2.0" height="16.35" fill="#e2424e"/>
<rect x="480.42" y="245.77" width="0.7" height="25.37" fill="#e2424e" opacity="0.85"/>
<rect x="479.77" y="248.27" width="2.0" height="18.87" fill="#e2424e"/>
<rect x="482.96" y="264.80" width="0.7" height="19.03" fill="#e2424e" opacity="0.85"/>
<rect x="482.31" y="267.14" width="2.0" height="13.26" fill="#e2424e"/>
<rect x="485.07" y="273.26" width="0.7" height="19.02" fill="#55706a" opacity="0.85"/>
<rect x="484.42" y="278.97" width="2.0" height="7.61" fill="#55706a"/>
<rect x="487.19" y="275.37" width="0.7" height="14.80" fill="#e2424e" opacity="0.85"/>
<rect x="486.54" y="282.77" width="2.0" height="4.74" fill="#e2424e"/>
<rect x="489.30" y="281.71" width="0.7" height="13.74" fill="#e2424e" opacity="0.85"/>
<rect x="488.65" y="287.51" width="2.0" height="5.47" fill="#e2424e"/>
<rect x="492.06" y="291.63" width="0.7" height="32.56" fill="#e2424e" opacity="0.85"/>
<rect x="491.41" y="292.79" width="2.0" height="30.81" fill="#e2424e"/>
<rect x="494.38" y="299.77" width="0.7" height="30.46" fill="#22967f" opacity="0.85"/>
<rect x="493.73" y="300.93" width="2.0" height="26.16" fill="#22967f"/>
<rect x="496.48" y="296.28" width="0.7" height="12.79" fill="#22967f" opacity="0.85"/>
<rect x="495.83" y="297.44" width="2.0" height="4.07" fill="#22967f"/>
<rect x="498.57" y="293.37" width="0.7" height="6.98" fill="#22967f" opacity="0.85"/>
<rect x="497.92" y="296.28" width="2.0" height="3.49" fill="#22967f"/>
<rect x="500.55" y="294.53" width="0.7" height="11.05" fill="#22967f" opacity="0.85"/>
<rect x="499.90" y="295.70" width="2.0" height="2.90" fill="#22967f"/>
<rect x="502.52" y="296.28" width="0.7" height="9.88" fill="#e2424e" opacity="0.85"/>
<rect x="501.87" y="296.86" width="2.0" height="8.72" fill="#e2424e"/>
<rect x="504.38" y="303.26" width="0.7" height="6.39" fill="#e2424e" opacity="0.85"/>
<rect x="503.73" y="303.84" width="2.0" height="5.23" fill="#e2424e"/>
<rect x="505.55" y="304.42" width="0.7" height="11.63" fill="#e2424e" opacity="0.85"/>
<rect x="504.90" y="305.00" width="2.0" height="8.72" fill="#e2424e"/>
<rect x="507.18" y="306.74" width="0.7" height="9.31" fill="#22967f" opacity="0.85"/>
<rect x="506.53" y="311.40" width="2.0" height="2.32" fill="#22967f"/>
<rect x="509.50" y="300.93" width="0.7" height="12.79" fill="#22967f" opacity="0.85"/>
<rect x="508.85" y="301.51" width="2.0" height="11.63" fill="#22967f"/>
<rect x="511.36" y="297.44" width="0.7" height="5.82" fill="#22967f" opacity="0.85"/>
<rect x="510.71" y="298.02" width="2.0" height="4.65" fill="#22967f"/>
<rect x="513.34" y="298.02" width="0.7" height="15.12" fill="#e2424e" opacity="0.85"/>
<rect x="512.69" y="298.60" width="2.0" height="12.80" fill="#e2424e"/>
<rect x="515.32" y="305.58" width="0.7" height="4.07" fill="#e2424e" opacity="0.85"/>
<rect x="514.67" y="306.16" width="2.0" height="2.91" fill="#e2424e"/>
<rect x="516.48" y="306.16" width="0.7" height="5.24" fill="#22967f" opacity="0.85"/>
<rect x="515.83" y="306.74" width="2.0" height="4.07" fill="#22967f"/>
<rect x="517.99" y="305.00" width="0.7" height="6.98" fill="#e2424e" opacity="0.85"/>
<rect x="517.34" y="305.58" width="2.0" height="5.82" fill="#e2424e"/>
<rect x="519.73" y="303.26" width="0.7" height="9.30" fill="#e2424e" opacity="0.85"/>
<rect x="519.08" y="303.84" width="2.0" height="8.14" fill="#e2424e"/>
<rect x="521.83" y="307.91" width="0.7" height="6.97" fill="#e2424e" opacity="0.85"/>
<rect x="521.18" y="308.49" width="2.0" height="5.23" fill="#e2424e"/>
<rect x="523.80" y="309.65" width="0.7" height="3.49" fill="#22967f" opacity="0.85"/>
<rect x="523.15" y="310.23" width="2.0" height="2.33" fill="#22967f"/>
<rect x="525.55" y="309.07" width="0.7" height="2.91" fill="#22967f" opacity="0.85"/>
<rect x="524.90" y="309.65" width="2.0" height="1.75" fill="#22967f"/>
<rect x="527.29" y="307.91" width="0.7" height="2.90" fill="#22967f" opacity="0.85"/>
<rect x="526.64" y="308.49" width="2.0" height="1.74" fill="#22967f"/>
<rect x="529.04" y="308.49" width="0.7" height="3.49" fill="#e2424e" opacity="0.85"/>
<rect x="528.39" y="309.07" width="2.0" height="2.33" fill="#e2424e"/>
<rect x="530.78" y="310.23" width="0.7" height="11.05" fill="#e2424e" opacity="0.85"/>
<rect x="530.13" y="310.81" width="2.0" height="9.89" fill="#e2424e"/>
<rect x="533.11" y="318.95" width="0.7" height="5.82" fill="#e2424e" opacity="0.85"/>
<rect x="532.46" y="319.53" width="2.0" height="1.75" fill="#e2424e"/>
<rect x="535.43" y="293.95" width="0.7" height="27.33" fill="#22967f" opacity="0.85"/>
<rect x="534.78" y="300.93" width="2.0" height="19.77" fill="#22967f"/>
<rect x="537.41" y="299.19" width="0.7" height="5.81" fill="#22967f" opacity="0.85"/>
<rect x="536.76" y="299.77" width="2.0" height="4.65" fill="#22967f"/>
<rect x="539.27" y="302.09" width="0.7" height="12.21" fill="#e2424e" opacity="0.85"/>
<rect x="538.62" y="302.67" width="2.0" height="11.05" fill="#e2424e"/>
<rect x="540.90" y="306.16" width="0.7" height="8.14" fill="#e2424e" opacity="0.85"/>
<rect x="540.25" y="306.74" width="2.0" height="6.98" fill="#e2424e"/>
<rect x="542.06" y="310.00" width="0.7" height="11.28" fill="#55706a" opacity="0.85"/>
<rect x="541.41" y="310.81" width="2.0" height="2.91" fill="#55706a"/>
<rect x="544.15" y="309.65" width="0.7" height="4.65" fill="#e2424e" opacity="0.85"/>
<rect x="543.50" y="310.23" width="2.0" height="3.49" fill="#e2424e"/>
<rect x="546.03" y="303.46" width="0.7" height="8.24" fill="#22967f" opacity="0.85"/>
<rect x="545.38" y="304.94" width="2.0" height="6.53" fill="#22967f"/>
<rect x="547.82" y="302.09" width="0.7" height="8.24" fill="#22967f" opacity="0.85"/>
<rect x="547.17" y="303.57" width="2.0" height="1.37" fill="#22967f"/>
<rect x="549.47" y="299.34" width="0.7" height="9.62" fill="#22967f" opacity="0.85"/>
<rect x="548.82" y="301.07" width="2.0" height="2.50" fill="#22967f"/>
<rect x="551.11" y="289.04" width="0.7" height="20.60" fill="#22967f" opacity="0.85"/>
<rect x="550.46" y="294.53" width="2.0" height="14.43" fill="#22967f"/>
<rect x="552.90" y="293.16" width="0.7" height="8.93" fill="#e2424e" opacity="0.85"/>
<rect x="552.25" y="294.53" width="2.0" height="6.87" fill="#e2424e"/>
<rect x="554.96" y="298.65" width="0.7" height="9.62" fill="#e2424e" opacity="0.85"/>
<rect x="554.31" y="299.34" width="2.0" height="8.24" fill="#e2424e"/>
<rect x="556.33" y="304.15" width="0.7" height="6.18" fill="#e2424e" opacity="0.85"/>
<rect x="555.68" y="304.84" width="2.0" height="4.80" fill="#e2424e"/>
<rect x="557.98" y="307.58" width="0.7" height="4.81" fill="#e2424e" opacity="0.85"/>
<rect x="557.33" y="308.27" width="2.0" height="3.43" fill="#e2424e"/>
<rect x="559.77" y="308.96" width="0.7" height="5.49" fill="#e2424e" opacity="0.85"/>
<rect x="559.12" y="309.64" width="2.0" height="4.12" fill="#e2424e"/>
<rect x="561.55" y="304.15" width="0.7" height="9.20" fill="#22967f" opacity="0.85"/>
<rect x="560.90" y="304.84" width="2.0" height="8.24" fill="#22967f"/>
<rect x="563.20" y="301.40" width="0.7" height="6.46" fill="#22967f" opacity="0.85"/>
<rect x="562.55" y="302.09" width="2.0" height="5.49" fill="#22967f"/>
<rect x="564.85" y="300.44" width="0.7" height="5.36" fill="#22967f" opacity="0.85"/>
<rect x="564.20" y="300.99" width="2.0" height="4.53" fill="#22967f"/>
<rect x="566.64" y="299.62" width="0.7" height="4.94" fill="#22967f" opacity="0.85"/>
<rect x="565.99" y="300.44" width="2.0" height="3.71" fill="#22967f"/>
<rect x="568.28" y="298.65" width="0.7" height="5.09" fill="#22967f" opacity="0.85"/>
<rect x="567.63" y="299.34" width="2.0" height="4.12" fill="#22967f"/>
<rect x="570.07" y="288.35" width="0.7" height="14.01" fill="#22967f" opacity="0.85"/>
<rect x="569.42" y="298.65" width="2.0" height="3.44" fill="#22967f"/>
<rect x="571.72" y="296.32" width="0.7" height="4.67" fill="#22967f" opacity="0.85"/>
<rect x="571.07" y="297.28" width="2.0" height="3.43" fill="#22967f"/>
<rect x="573.50" y="293.57" width="0.7" height="6.05" fill="#22967f" opacity="0.85"/>
<rect x="572.85" y="294.53" width="2.0" height="4.81" fill="#22967f"/>
<rect x="575.15" y="288.63" width="0.7" height="9.61" fill="#22967f" opacity="0.85"/>
<rect x="574.50" y="289.73" width="2.0" height="8.24" fill="#22967f"/>
<rect x="576.94" y="271.59" width="0.7" height="21.57" fill="#22967f" opacity="0.85"/>
<rect x="576.29" y="273.24" width="2.0" height="19.23" fill="#22967f"/>
<rect x="579.69" y="273.52" width="0.7" height="7.28" fill="#e2424e" opacity="0.85"/>
<rect x="579.04" y="274.62" width="2.0" height="5.49" fill="#e2424e"/>
<rect x="581.06" y="277.09" width="0.7" height="9.20" fill="#e2424e" opacity="0.85"/>
<rect x="580.41" y="278.05" width="2.0" height="7.55" fill="#e2424e"/>
<rect x="582.43" y="282.86" width="0.7" height="10.30" fill="#e2424e" opacity="0.85"/>
<rect x="581.78" y="284.23" width="2.0" height="8.24" fill="#e2424e"/>
<rect x="583.81" y="286.98" width="0.7" height="10.30" fill="#e2424e" opacity="0.85"/>
<rect x="583.16" y="288.35" width="2.0" height="7.56" fill="#e2424e"/>
<rect x="585.87" y="291.79" width="0.7" height="8.24" fill="#e2424e" opacity="0.85"/>
<rect x="585.22" y="293.16" width="2.0" height="6.18" fill="#e2424e"/>
<rect x="587.93" y="293.57" width="0.7" height="9.20" fill="#e2424e" opacity="0.85"/>
<rect x="587.28" y="294.53" width="2.0" height="7.56" fill="#e2424e"/>
<rect x="589.58" y="296.32" width="0.7" height="8.52" fill="#e2424e" opacity="0.85"/>
<rect x="588.93" y="297.28" width="2.0" height="6.18" fill="#e2424e"/>
<rect x="591.36" y="293.16" width="0.7" height="11.40" fill="#22967f" opacity="0.85"/>
<rect x="590.71" y="294.53" width="2.0" height="9.62" fill="#22967f"/>
<rect x="592.73" y="289.04" width="0.7" height="9.34" fill="#22967f" opacity="0.85"/>
<rect x="592.08" y="291.10" width="2.0" height="6.87" fill="#22967f"/>
<rect x="594.52" y="290.14" width="0.7" height="4.81" fill="#22967f" opacity="0.85"/>
<rect x="593.87" y="291.10" width="2.0" height="3.43" fill="#22967f"/>
<rect x="596.17" y="289.04" width="0.7" height="4.12" fill="#55706a" opacity="0.85"/>
<rect x="595.52" y="289.73" width="2.0" height="2.74" fill="#55706a"/>
<rect x="598.64" y="291.10" width="0.7" height="10.99" fill="#e2424e" opacity="0.85"/>
<rect x="597.99" y="291.79" width="2.0" height="9.61" fill="#e2424e"/>
<rect x="600.29" y="299.34" width="0.7" height="9.62" fill="#e2424e" opacity="0.85"/>
<rect x="599.64" y="300.03" width="2.0" height="8.24" fill="#e2424e"/>
<rect x="601.94" y="304.15" width="0.7" height="5.49" fill="#e2424e" opacity="0.85"/>
<rect x="601.29" y="305.11" width="2.0" height="3.57" fill="#e2424e"/>
<rect x="603.72" y="304.15" width="0.7" height="4.81" fill="#22967f" opacity="0.85"/>
<rect x="603.07" y="305.52" width="2.0" height="2.75" fill="#22967f"/>
<rect x="605.37" y="306.21" width="0.7" height="6.18" fill="#e2424e" opacity="0.85"/>
<rect x="604.72" y="306.90" width="2.0" height="3.43" fill="#e2424e"/>
<rect x="607.16" y="304.15" width="0.7" height="4.53" fill="#22967f" opacity="0.85"/>
<rect x="606.51" y="304.84" width="2.0" height="3.43" fill="#22967f"/>
<rect x="608.81" y="297.97" width="0.7" height="8.51" fill="#22967f" opacity="0.85"/>
<rect x="608.16" y="298.65" width="2.0" height="7.56" fill="#22967f"/>
<rect x="610.59" y="293.85" width="0.7" height="7.28" fill="#22967f" opacity="0.85"/>
<rect x="609.94" y="294.53" width="2.0" height="6.18" fill="#22967f"/>
<rect x="612.24" y="292.47" width="0.7" height="3.85" fill="#22967f" opacity="0.85"/>
<rect x="611.59" y="293.16" width="2.0" height="2.75" fill="#22967f"/>
<rect x="614.71" y="293.16" width="0.7" height="12.36" fill="#e2424e" opacity="0.85"/>
<rect x="614.06" y="293.85" width="2.0" height="8.24" fill="#e2424e"/>
<rect x="616.36" y="300.03" width="0.7" height="2.88" fill="#e2424e" opacity="0.85"/>
<rect x="615.71" y="300.71" width="2.0" height="1.65" fill="#e2424e"/>
<rect x="618.15" y="299.34" width="0.7" height="3.43" fill="#22967f" opacity="0.85"/>
<rect x="617.50" y="300.44" width="2.0" height="1.65" fill="#22967f"/>
</g>
<g stroke="#1e1e1e" stroke-width="1.5">
<line x1="443.5" y1="272.7" x2="741.8" y2="272.7" stroke-width="1.8"/>
<line x1="443.5" y1="294.5" x2="741.8" y2="294.5" stroke-width="1.6"/>
<line x1="493.3" y1="330.1" x2="759" y2="330.1"/>
<line x1="493.3" y1="381.7" x2="741.8" y2="381.7"/>
<line x1="813.2" y1="272.6" x2="816.2" y2="272.6"/>
<line x1="813.2" y1="294.4" x2="816.2" y2="294.4"/>
<line x1="813.2" y1="329.8" x2="816.2" y2="329.8"/>
<line x1="813.2" y1="381.7" x2="816.2" y2="381.7"/>
</g>
<line x1="7.4" y1="301.3" x2="816.7" y2="301.3" stroke="#5f9e8e" stroke-width="0.9" stroke-dasharray="0.9 1.5" opacity="0.7"/>
<g stroke="#4468dc" stroke-width="1.5" fill="none" stroke-linecap="round" stroke-linejoin="round">
<polyline points="574.2,297.5 583.6,281.6 605.6,375.7"/>
<polyline points="596.8,370.3 605.6,375.7 611.4,366.5"/>
</g>
<g font-size="9.1" fill="#2a2a2a" stroke="#2a2a2a" stroke-width="0.12">
<text x="745.7" y="274.1" textLength="64.7" lengthAdjust="spacingAndGlyphs">0.382 (2,380.04)</text>
<text x="745.7" y="295.9" textLength="64.7" lengthAdjust="spacingAndGlyphs">0.236 (2,138.40)</text>
<text x="763.4" y="332.5" textLength="47" lengthAdjust="spacingAndGlyphs">1 (1,747.80)</text>
<text x="745.3" y="384.4" textLength="65.2" lengthAdjust="spacingAndGlyphs">2.414 (1,176.22)</text>
</g>
<g font-size="11.8" fill="#222" stroke="#222" stroke-width="0.2">
<text x="612" y="252.2" textLength="55" lengthAdjust="spacing">2138-2380</text>
<text x="537.4" y="345.9">1747</text>
<text x="605.6" y="399.5" textLength="41.9" lengthAdjust="spacing">1176.22</text>
</g>
<g font-size="9" fill="#585858">
<text x="822.6" y="14.4" textLength="33.0" lengthAdjust="spacingAndGlyphs">5,250.00</text>
<text x="822.6" y="37.1" textLength="33.0" lengthAdjust="spacingAndGlyphs">5,000.00</text>
<text x="822.6" y="59.8" textLength="33.0" lengthAdjust="spacingAndGlyphs">4,750.00</text>
<text x="822.6" y="82.6" textLength="33.0" lengthAdjust="spacingAndGlyphs">4,500.00</text>
<text x="822.6" y="105.3" textLength="33.0" lengthAdjust="spacingAndGlyphs">4,250.00</text>
<text x="822.6" y="128.1" textLength="33.0" lengthAdjust="spacingAndGlyphs">4,000.00</text>
<text x="822.6" y="150.8" textLength="33.0" lengthAdjust="spacingAndGlyphs">3,750.00</text>
<text x="822.6" y="173.5" textLength="33.0" lengthAdjust="spacingAndGlyphs">3,500.00</text>
<text x="822.6" y="196.3" textLength="33.0" lengthAdjust="spacingAndGlyphs">3,250.00</text>
<text x="822.6" y="219.0" textLength="33.0" lengthAdjust="spacingAndGlyphs">3,000.00</text>
<text x="822.6" y="241.8" textLength="33.0" lengthAdjust="spacingAndGlyphs">2,750.00</text>
<text x="822.6" y="264.5" textLength="33.0" lengthAdjust="spacingAndGlyphs">2,500.00</text>
<text x="822.6" y="287.2" textLength="33.0" lengthAdjust="spacingAndGlyphs">2,250.00</text>
<text x="822.6" y="310.0" textLength="33.0" lengthAdjust="spacingAndGlyphs">2,000.00</text>
<text x="822.6" y="332.7" textLength="33.0" lengthAdjust="spacingAndGlyphs">1,750.00</text>
<text x="822.6" y="355.5" textLength="33.0" lengthAdjust="spacingAndGlyphs">1,500.00</text>
<text x="822.6" y="378.2" textLength="33.0" lengthAdjust="spacingAndGlyphs">1,250.00</text>
<text x="822.6" y="400.9" textLength="33.0" lengthAdjust="spacingAndGlyphs">1,000.00</text>
<text x="822.6" y="423.7" textLength="26.4" lengthAdjust="spacingAndGlyphs">750.00</text>
<clipPath id="c5"><rect x="817" y="430" width="46" height="15"/></clipPath>
<text x="822.6" y="446.4" clip-path="url(#c5)" textLength="26.4" lengthAdjust="spacingAndGlyphs">500.00</text>
</g>
<rect x="816.9" y="295" width="42.5" height="12.2" fill="#1b9b84" rx="0.8"/>
<text x="823" y="304.2" font-size="9.8" fill="#fff" textLength="33.2" lengthAdjust="spacingAndGlyphs">2,063.13</text>
<g font-size="9.2" fill="#585858" text-anchor="middle">
<text x="14.3" y="457.6">Jul</text>
<text x="81" y="457.6">Aug</text>
<text x="149" y="457.6">Sep</text>
<text x="214" y="457.6">Oct</text>
<text x="282" y="457.6">Nov</text>
<text x="347" y="457.6">Dec</text>
<text x="482" y="457.6">Feb</text>
<text x="544" y="457.6">Mar</text>
<text x="611.7" y="457.6">Apr</text>
<text x="677.2" y="457.6">May</text>
<text x="745" y="457.6">Jun</text>
<text x="415" y="457.6" font-weight="bold" fill="#333">2026</text>
<clipPath id="cj"><rect x="790" y="446" width="26.4" height="19"/></clipPath>
<text x="811.2" y="457.6" clip-path="url(#cj)">Jul</text>
</g>
<g font-size="8.6">
<text x="13.1" y="12.7" fill="#3e3e3e" textLength="139.8" lengthAdjust="spacing">Ethereum / Tether Spot, 1D, Binance</text>
<text x="159.3" y="12.7" fill="#4a4a4a">O</text>
<text x="165" y="12.7" fill="#1f9d8b" textLength="33.2" lengthAdjust="spacing">2,053.83</text>
<text x="205" y="12.7" fill="#4a4a4a">H</text>
<text x="210.6" y="12.7" fill="#1f9d8b" textLength="33.1" lengthAdjust="spacing">2,084.00</text>
<text x="250.1" y="12.7" fill="#4a4a4a">L</text>
<text x="254.9" y="12.7" fill="#1f9d8b" textLength="32.7" lengthAdjust="spacing">2,044.63</text>
<text x="293.1" y="12.7" fill="#4a4a4a">C</text>
<text x="298.8" y="12.7" fill="#1f9d8b" textLength="33.4" lengthAdjust="spacing">2,063.13</text>
<text x="337.9" y="12.7" fill="#1f9d8b" textLength="59.8" lengthAdjust="spacing">+9.30 (+0.45%)</text>
</g>
</svg></body></html>
